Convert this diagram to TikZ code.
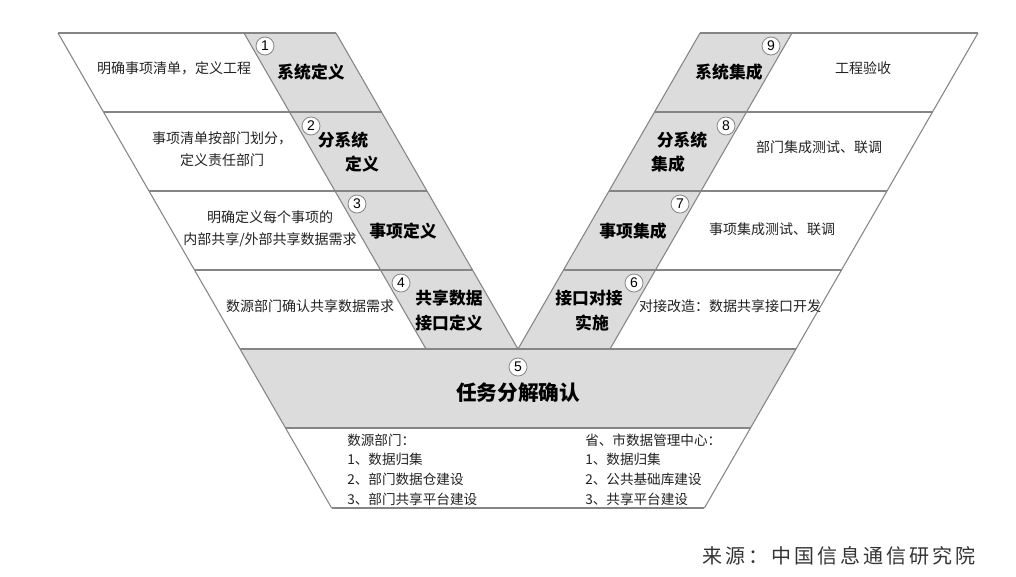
\documentclass[tikz,border=0pt]{standalone}
\usepackage{fontspec}
\setmainfont{Noto Sans CJK SC}
\newfontfamily\numfont{Liberation Sans}
\definecolor{edgec}{HTML}{858585}
\definecolor{cellc}{HTML}{DCDCDC}
\definecolor{txtc}{HTML}{222222}
\definecolor{srcc}{HTML}{333333}
\tikzset{
  ln/.style={draw=edgec, line width=0.8pt},
  cellfill/.style={fill=cellc},
  celltxt/.style={text=txtc, font=\fontsize{10.5}{16.5}\selectfont, align=center, inner sep=0pt},
  basetxt/.style={text=txtc, font=\fontsize{10.2}{14.8}\selectfont, align=left, inner sep=0pt, anchor=west},
  graytxt/.style={text=black, font=\fontsize{12.6}{18.75}\selectfont\bfseries, align=center, inner sep=0pt},
  bigtxt/.style={text=black, font=\fontsize{15.5}{18}\selectfont\bfseries, inner sep=0pt},
  numc/.style={circle, draw=edgec, fill=white, line width=0.6pt, minimum size=13.5pt, inner sep=0pt, text=black, font=\numfont\fontsize{10.5}{10.5}\selectfont},
  srctxt/.style={text=srcc, font=\fontsize{15}{15}\selectfont\addfontfeature{LetterSpace=15}, inner sep=0pt, anchor=west}
}
\begin{document}
\begin{tikzpicture}[x=0.75pt,y=-0.75pt]
\useasboundingbox (0,0) rectangle (1016,576);
% key points
\coordinate (LT) at (58,33);     \coordinate (LB) at (331.6,508);
\coordinate (RT) at (978,33);    \coordinate (RB) at (704.4,508);
\coordinate (GLT) at (244,33);   \coordinate (GLB) at (426,349);
\coordinate (GRT) at (792,33);   \coordinate (GRB) at (610,349);
\coordinate (ILT) at (336,33);   \coordinate (IRT) at (700,33);
\coordinate (V) at (518,349);
% fills
\fill[cellfill] (GLT) -- (ILT) -- (V) -- (GLB) -- cycle;
\fill[cellfill] (GRT) -- (IRT) -- (V) -- (GRB) -- cycle;
\fill[cellfill] (240,349) -- (796,349) -- (750.5,428) -- (285.5,428) -- cycle;
% slanted lines
\draw[ln] (LT) -- (LB);
\draw[ln] (RT) -- (RB);
\draw[ln] (GLT) -- (GLB);
\draw[ln] (GRT) -- (GRB);
\draw[ln] (ILT) -- (V) -- (IRT);
% horizontal lines
\draw[ln] (LT) -- (ILT);            \draw[ln] (IRT) -- (RT);
\draw[ln] (103.5,112) -- (381.5,112); \draw[ln] (654.5,112) -- (932.5,112);
\draw[ln] (149,191) -- (427,191);     \draw[ln] (609,191) -- (887,191);
\draw[ln] (194.5,270) -- (472.5,270); \draw[ln] (563.5,270) -- (841.5,270);
\draw[ln] (240,349) -- (796,349);
\draw[ln] (285.5,428) -- (750.5,428);
\draw[ln] (LB) -- (RB);
% white cell texts (left)
\node[celltxt] (t1) at (174,68) {明确事项清单，定义工程};
\node[celltxt] (t2) at (222,149) {事项清单按部门划分，\\定义责任部门};
\node[celltxt] (t3) at (270,229) {明确定义每个事项的\\内部共享/外部共享数据需求};
\node[celltxt] (t4) at (310,306) {数源部门确认共享数据需求};
% white cell texts (right)
\node[celltxt] (r1) at (863,68) {工程验收};
\node[celltxt] (r2) at (819,147) {部门集成测试、联调};
\node[celltxt] (r3) at (772,229) {事项集成测试、联调};
\node[celltxt] (r4) at (730,306) {对接改造：数据共享接口开发};
% gray cell texts
\node[graytxt] (g1) at (311,72) {系统定义};
\node[graytxt] (g2a) at (343,140) {分系统};
\node[graytxt] (g2b) at (362,164) {定义};
\node[graytxt] (g3) at (403,231) {事项定义};
\node[graytxt] (g4) at (449,310.5) {共享数据\\接口定义};
\node[bigtxt] (g5) at (518,393) {任务分解确认};
\node[graytxt] (g6a) at (589,298) {接口对接};
\node[graytxt] (g6b) at (592,323) {实施};
\node[graytxt] (g7) at (633,231) {事项集成};
\node[graytxt] (g8a) at (682,140) {分系统};
\node[graytxt] (g8b) at (668,164) {集成};
\node[graytxt] (g9) at (729,72) {系统集成};
% numbers
\node[numc] (n1) at (265,46) {1};
\node[numc] (n2) at (311,126) {2};
\node[numc] (n3) at (357,204) {3};
\node[numc] (n4) at (401,283) {4};
\node[numc] (n5) at (518,367) {5};
\node[numc] (n6) at (634,283) {6};
\node[numc] (n7) at (680,204) {7};
\node[numc] (n8) at (726,126) {8};
\node[numc] (n9) at (771,46) {9};
% base texts
\node[basetxt] (b1) at (347,469.5) {数源部门：\\1、数据归集\\2、部门数据仓建设\\3、部门共享平台建设};
\node[basetxt] (b2) at (585,469.5) {省、市数据管理中心：\\1、数据归集\\2、公共基础库建设\\3、共享平台建设};
% source
\node[srctxt] (src) at (702,556) {来源：中国信息通信研究院};
\end{tikzpicture}
\end{document}
